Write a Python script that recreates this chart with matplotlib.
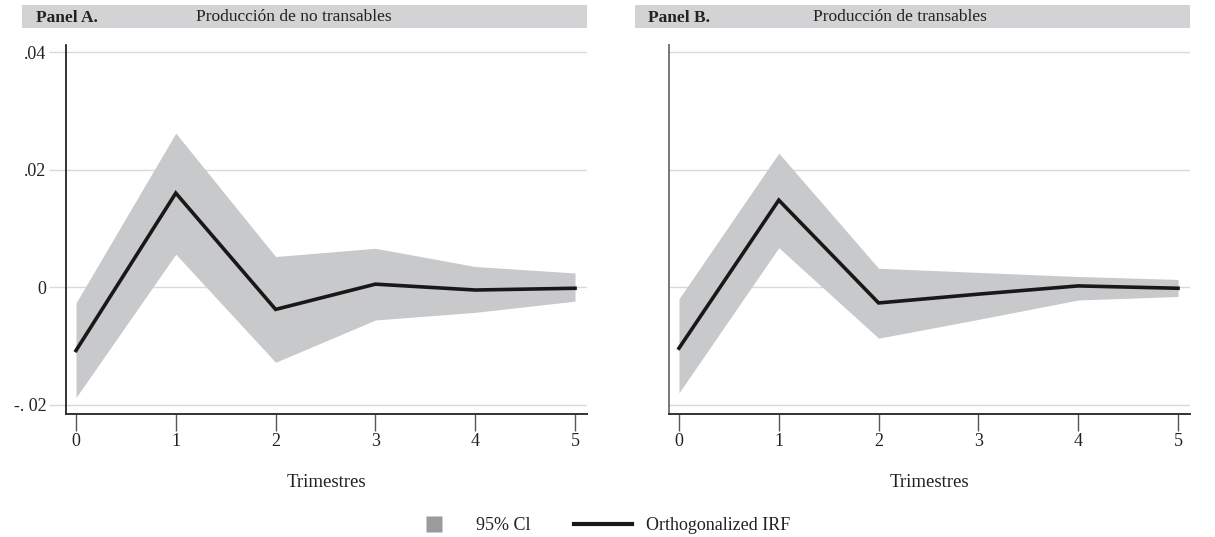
import matplotlib
matplotlib.use("Agg")
import matplotlib.pyplot as plt
from matplotlib.patches import Rectangle
from matplotlib.lines import Line2D

plt.rcParams["font.family"] = ["Liberation Serif", "DejaVu Serif"]

# Quarters after the shock
quarters = [0, 1, 2, 3, 4, 5]

# Panel A: non-tradables output
irf_a = [-0.0108, 0.0160, -0.0038, 0.0005, -0.0005, -0.0002]
upper_a = [-0.0027, 0.0262, 0.0052, 0.0066, 0.0035, 0.0024]
lower_a = [-0.0188, 0.0056, -0.0128, -0.0056, -0.0043, -0.0024]

# Panel B: tradables output
irf_b = [-0.0104, 0.0148, -0.0027, -0.0012, 0.0002, -0.0002]
upper_b = [-0.0020, 0.0228, 0.0032, 0.0025, 0.0018, 0.0013]
lower_b = [-0.0180, 0.0067, -0.0087, -0.0055, -0.0022, -0.0016]

yticks = [-0.02, 0, 0.02, 0.04]
ytick_labels = ["-. 02", "0", ".02", ".04"]

panels = [
    ("Panel A.", "Producción de no transables", irf_a, upper_a, lower_a),
    ("Panel B.", "Producción de transables", irf_b, upper_b, lower_b),
]

band_color = "#c8c9cb"
grid_color = "#d9d9d9"

fig = plt.figure(figsize=(12.15, 5.37), dpi=100)
ax_a = fig.add_axes([66 / 1215, 1 - 414 / 537, 521 / 1215, 369 / 537])
ax_b = fig.add_axes([669 / 1215, 1 - 414 / 537, 521 / 1215, 369 / 537])

bar_left = [-0.0845, -0.065]
label_x = [-0.0576, -0.0403]
title_x = [0.2495, 0.2764]

for i, (ax, (tag, title, irf, up, lo)) in enumerate(zip([ax_a, ax_b], panels)):
    ax.fill_between(quarters, lo, up, color=band_color, linewidth=0, zorder=2)
    ax.plot(quarters, irf, color="#1a1718", linewidth=2.6, zorder=3,
            solid_joinstyle="miter")

    ax.set_xlim(-0.1, 5.12)
    ax.set_ylim(-0.0216, 0.0412)
    ax.set_yticks(yticks)
    ax.yaxis.grid(True, color=grid_color, linewidth=1.0, zorder=0)
    ax.set_axisbelow(True)
    ax.set_xticks(quarters)

    for side in ["top", "right"]:
        ax.spines[side].set_visible(False)
    ax.spines["bottom"].set_color("#333333")
    ax.spines["bottom"].set_linewidth(1.4)

    ax.tick_params(axis="x", direction="out", length=12, width=1.0,
                   color="#555555", labelsize=13, labelcolor="#222222", pad=2)
    ax.set_xlabel("Trimestres", fontsize=13.5, color="#222222", labelpad=17)

    if i == 0:
        ax.set_yticklabels(ytick_labels)
        ax.tick_params(axis="y", direction="out", length=12, width=1.0,
                       color=grid_color, labelsize=13, labelcolor="#222222", pad=2)
        ax.spines["left"].set_color("#111111")
        ax.spines["left"].set_linewidth(1.2)
    else:
        ax.tick_params(axis="y", length=0, labelleft=False)
        ax.spines["left"].set_color("#777777")
        ax.spines["left"].set_linewidth(1.4)

    # header strip
    ax.add_patch(Rectangle((bar_left[i], 1.046), 1.0 - bar_left[i], 0.062,
                           transform=ax.transAxes, facecolor="#d3d3d5",
                           edgecolor="none", clip_on=False, zorder=1))
    ax.text(label_x[i], 1.074, tag, transform=ax.transAxes, fontsize=12.5,
            fontweight="bold", color="#222222", va="center", ha="left")
    ax.text(title_x[i], 1.077, title, transform=ax.transAxes, fontsize=12.5,
            color="#222222", va="center", ha="left")

handles = [
    Line2D([], [], linestyle="none", marker="s", markersize=12,
           markerfacecolor="#9b9b9e", markeredgecolor="none"),
    Line2D([], [], color="#1a1718", linewidth=3.0),
]
fig.legend(handles, ["95% Cl", "Orthogonalized IRF"], loc="center",
           bbox_to_anchor=(0.4918, 1 - 526 / 537), ncol=2, frameon=False,
           fontsize=13, handlelength=3.2, handletextpad=0.75,
           columnspacing=2.4, labelcolor="#222222")

fig.savefig("out.png", dpi=100)
